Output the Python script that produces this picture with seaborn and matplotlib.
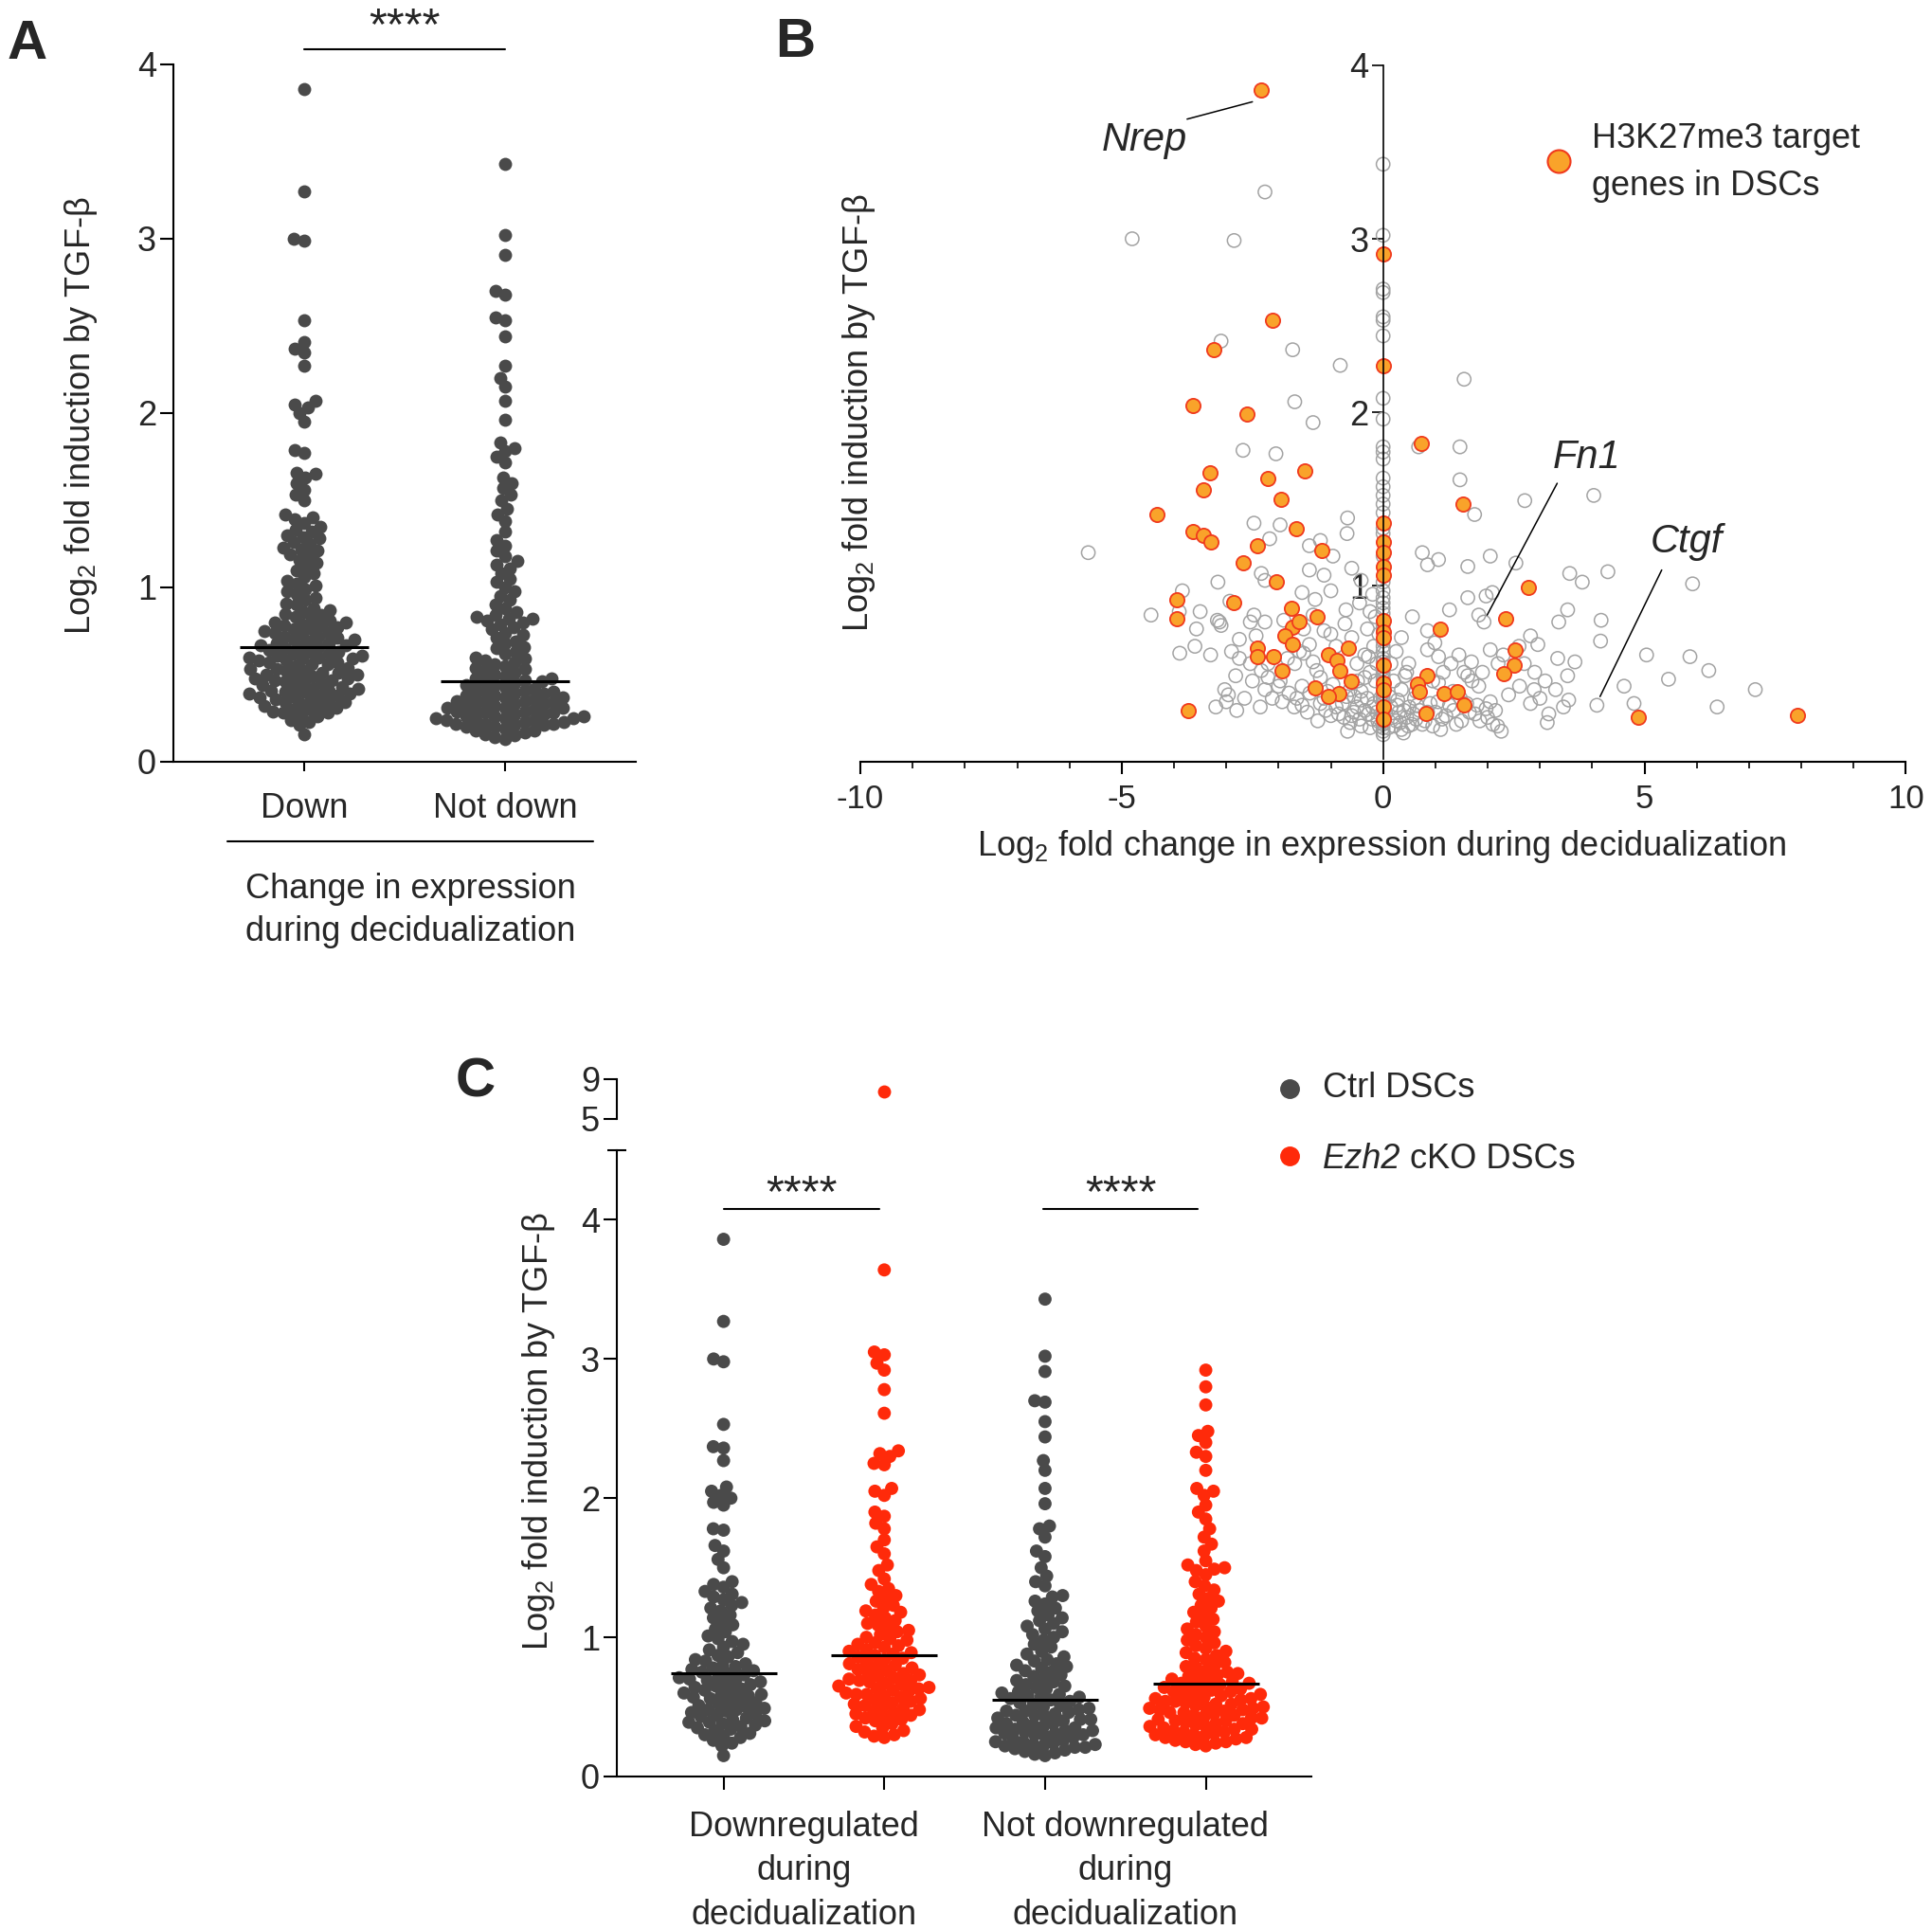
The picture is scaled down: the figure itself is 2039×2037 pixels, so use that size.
import numpy as np
import pandas as pd
import matplotlib
matplotlib.use("Agg")
import matplotlib.pyplot as plt
import seaborn as sns
from matplotlib.lines import Line2D
from matplotlib.collections import PathCollection
from matplotlib.ticker import MultipleLocator

# ---------------------------------------------------------------- data
# Panel A: log2 fold induction by TGF-beta, grouped by change during decidualization
a_groups = ["Down", "Not down"]
a_down = [0.16, 0.21, 0.23, 0.24,
          0.26, 0.27, 0.28, 0.28, 0.29, 0.30, 0.30, 0.31, 0.32, 0.32, 0.33, 0.34, 0.34,
          0.35, 0.36, 0.36, 0.37, 0.37, 0.38, 0.38, 0.39, 0.39, 0.40, 0.40, 0.41, 0.41, 0.42, 0.42, 0.43, 0.43, 0.44,
          0.45, 0.46, 0.46, 0.47, 0.47, 0.48, 0.48, 0.49, 0.49, 0.50, 0.50, 0.51, 0.51, 0.52, 0.52, 0.53, 0.53, 0.54,
          0.55, 0.56, 0.56, 0.57, 0.57, 0.58, 0.58, 0.59, 0.59, 0.60, 0.60, 0.61, 0.61, 0.62, 0.62, 0.63, 0.63, 0.64,
          0.65, 0.66, 0.66, 0.67, 0.67, 0.68, 0.68, 0.69, 0.70, 0.70, 0.71, 0.72, 0.72, 0.73, 0.74, 0.74,
          0.75, 0.76, 0.76, 0.77, 0.78, 0.78, 0.79, 0.80, 0.80, 0.81, 0.82, 0.83, 0.84, 0.85,
          0.86, 0.87, 0.88, 0.90, 0.91, 0.93, 0.94,
          0.96, 0.98, 0.99, 1.01, 1.02, 1.04,
          1.06, 1.08, 1.10, 1.12, 1.14,
          1.16, 1.18, 1.19, 1.21, 1.22, 1.23, 1.25,
          1.26, 1.28, 1.29, 1.30, 1.32, 1.33, 1.35,
          1.37, 1.39, 1.40, 1.42,
          1.50, 1.53, 1.56, 1.60, 1.63, 1.65, 1.66, 1.77, 1.79, 1.95, 2.00, 2.03, 2.05, 2.07,
          2.27, 2.35, 2.37, 2.41, 2.53, 2.99, 3.00, 3.27, 3.86]
a_notdown = [0.13, 0.14, 0.15, 0.16, 0.17, 0.18, 0.18, 0.19,
             0.20, 0.20, 0.21, 0.21, 0.22, 0.22, 0.22, 0.23, 0.23, 0.24, 0.24, 0.24,
             0.25, 0.25, 0.25, 0.26, 0.26, 0.26, 0.27, 0.27, 0.28, 0.28, 0.29, 0.29,
             0.30, 0.30, 0.31, 0.31, 0.31, 0.32, 0.32, 0.33, 0.33, 0.34, 0.34, 0.35, 0.35, 0.36, 0.36,
             0.37, 0.37, 0.38, 0.38, 0.39, 0.39,
             0.40, 0.40, 0.41, 0.42, 0.42, 0.43, 0.44, 0.44, 0.45, 0.46, 0.46, 0.47, 0.48, 0.48, 0.49,
             0.50, 0.51, 0.52, 0.53, 0.54, 0.55, 0.56, 0.57, 0.58, 0.59,
             0.60, 0.62, 0.63, 0.65, 0.66, 0.68, 0.69,
             0.71, 0.73, 0.74, 0.76, 0.77, 0.79,
             0.80, 0.81, 0.82, 0.82, 0.83, 0.84, 0.86, 0.88,
             0.90, 0.93, 0.95, 0.98, 1.00, 1.03, 1.05, 1.08, 1.11, 1.13, 1.15, 1.18,
             1.21, 1.24, 1.27, 1.32, 1.38, 1.42, 1.45, 1.50, 1.53, 1.57, 1.60, 1.63,
             1.72, 1.75, 1.78, 1.80, 1.83, 1.96, 2.07, 2.15, 2.20, 2.27, 2.44, 2.53, 2.55,
             2.68, 2.70, 2.91, 3.02, 3.43]
a_means = [0.66, 0.46]

# Panel B: (log2 fold change during decidualization, log2 fold induction by TGF-beta)
b_other_genes = [
    (0, 3.43), (0, 3.02), (0, 2.71), (0, 2.69), (0, 2.55), (0, 2.53), (0, 2.44), (0, 2.08), (0, 1.96),
    (0, 1.80), (0, 1.77), (0, 1.73), (0, 1.62), (0, 1.57), (0, 1.52), (0, 1.47), (0, 1.42), (0, 1.33),
    (0, 1.30), (0, 1.17), (0, 1.02), (0, 0.97), (0, 0.93), (0, 0.90), (0, 0.87), (0, 0.84), (0, 0.77),
    (0, 0.75), (0, 0.68), (0, 0.65), (0, 0.62), (0, 0.58), (0, 0.56), (0, 0.52), (0, 0.50), (0, 0.48),
    (0, 0.46), (0, 0.42), (0, 0.38), (0, 0.36), (0, 0.34), (0, 0.32), (0, 0.28), (0, 0.26), (0, 0.25),
    (0, 0.22), (0, 0.20), (0, 0.18), (0, 0.16), (0, 0.14),
    (-2.26, 3.27), (-4.80, 3.00), (-2.85, 2.99), (-3.10, 2.41), (-1.73, 2.36), (-0.82, 2.27), (1.55, 2.19),
    (-1.69, 2.06), (-1.34, 1.94), (-2.68, 1.78), (-2.05, 1.76), (0.68, 1.80), (1.47, 1.80), (1.47, 1.61),
    (4.03, 1.52), (2.71, 1.49), (1.75, 1.41), (-2.47, 1.36), (-1.97, 1.35), (-0.68, 1.39), (-0.69, 1.30),
    (-1.20, 1.26), (-2.17, 1.27), (-1.41, 1.23), (-0.96, 1.17), (-5.64, 1.19), (0.75, 1.19), (0.85, 1.12),
    (1.06, 1.15), (1.62, 1.11), (2.05, 1.17), (2.54, 1.13), (3.57, 1.07), (3.81, 1.02), (4.30, 1.08),
    (5.92, 1.01), (-2.33, 1.07), (-2.26, 1.03), (-1.41, 1.09), (-1.13, 1.06), (-0.42, 1.03), (-3.84, 0.97),
    (-3.16, 1.02), (-4.44, 0.83), (-3.57, 0.75), (-3.13, 0.79), (-2.93, 0.91), (-2.75, 0.69), (-2.47, 0.83),
    (-2.26, 0.79), (-2.54, 0.55), (-2.82, 0.48), (-3.03, 0.40), (-2.96, 0.37), (-2.26, 0.40), (-2.12, 0.35),
    (-1.93, 0.33), (-1.55, 0.96), (-1.34, 0.83), (-1.52, 0.75), (-1.41, 0.66), (-1.13, 0.74), (-0.73, 0.78),
    (-0.71, 0.86), (-0.35, 0.60), (-1.27, 0.51), (-1.55, 0.42), (-1.55, 0.31), (-1.13, 0.35), (-0.78, 0.32),
    (-0.56, 0.27), (-0.42, 0.34), (-0.68, 0.16), (-0.28, 0.26), (-0.21, 0.23), (-0.35, 0.47),
    (0.56, 0.82), (0.85, 0.74), (0.99, 0.67), (0.85, 0.63), (1.06, 0.59), (1.27, 0.86), (1.62, 0.93),
    (1.83, 0.83), (1.93, 0.79), (1.97, 0.94), (2.09, 0.96), (2.82, 0.71), (2.96, 0.66), (3.36, 0.79),
    (3.53, 0.86), (4.17, 0.80), (4.16, 0.68), (5.04, 0.60), (5.87, 0.59), (6.23, 0.51), (5.46, 0.46),
    (4.61, 0.42), (7.12, 0.40), (4.80, 0.32), (6.39, 0.30), (4.09, 0.31), (3.67, 0.56), (3.34, 0.58),
    (3.53, 0.48), (3.10, 0.45), (2.89, 0.40), (2.82, 0.32), (3.17, 0.26), (3.14, 0.21), (3.55, 0.34),
    (2.19, 0.19), (2.26, 0.16), (2.05, 0.63), (1.69, 0.56), (1.62, 0.48), (1.83, 0.42), (1.97, 0.29),
    (1.76, 0.26), (1.27, 0.31), (1.13, 0.23), (0.63, 0.39), (0.49, 0.55), (0.42, 0.48), (0.28, 0.34),
    (0.39, 0.15), (0.21, 0.19), (0.63, 0.23), (0.85, 0.27), (1.06, 0.44), (1.34, 0.39), (1.48, 0.35),
    (2.40, 0.37), (2.61, 0.42),
    (-3.89, 0.61), (-3.17, 0.80), (-3.10, 0.77), (-2.75, 0.58), (-2.33, 0.51), (-2.43, 0.71), (-2.54, 0.79),
    (-1.97, 0.45), (-1.83, 0.58), (-1.69, 0.55), (-1.52, 0.61), (-1.34, 0.56), (-1.20, 0.47), (-1.06, 0.39),
    (-0.96, 0.43), (-0.63, 0.40), (-0.49, 0.45), (-0.28, 0.59), (-0.42, 0.39), (-0.17, 0.32), (-0.85, 0.26),
    (-0.63, 0.21), (-0.42, 0.19), (-0.07, 0.19),
    (0.15, 0.30), (0.30, 0.27), (0.45, 0.24), (0.55, 0.20), (0.25, 0.22), (0.10, 0.18), (0.35, 0.17),
    (0.50, 0.30), (0.70, 0.28), (0.75, 0.20), (0.90, 0.32), (1.00, 0.27), (1.20, 0.25), (1.35, 0.28),
    (1.50, 0.22), (1.65, 0.27), (1.80, 0.31), (2.00, 0.24), (2.10, 0.20), (0.60, 0.35), (0.35, 0.40),
    (0.20, 0.45), (0.45, 0.50), (0.95, 0.45), (1.15, 0.50), (1.30, 0.55), (1.45, 0.60), (1.55, 0.50),
    (1.70, 0.45), (1.90, 0.50), (2.20, 0.55), (2.30, 0.60), (2.60, 0.65), (2.70, 0.55), (2.90, 0.50),
    (3.00, 0.35), (3.30, 0.40), (3.45, 0.30),
    (0.05, 0.26), (0.12, 0.36), (0.18, 0.24), (0.27, 0.31), (0.33, 0.21), (0.40, 0.28), (0.48, 0.19),
    (0.58, 0.26), (0.65, 0.31), (0.80, 0.22), (0.95, 0.19), (1.05, 0.33), (1.10, 0.17), (1.40, 0.20),
    (1.60, 0.32), (1.85, 0.22), (2.05, 0.33), (2.15, 0.28), (0.25, 0.62), (0.35, 0.70), (0.15, 0.55),
    (-0.10, 0.22), (-0.20, 0.30), (-0.30, 0.35), (-0.50, 0.30), (-0.60, 0.25), (-0.70, 0.36), (-0.90, 0.30),
    (-1.00, 0.25), (-1.20, 0.32), (-1.40, 0.38), (-1.70, 0.30), (-1.80, 0.38), (-2.00, 0.42), (-2.20, 0.47),
    (-2.50, 0.45), (-2.65, 0.35), (-3.00, 0.33), (-3.20, 0.30), (-3.30, 0.60), (-3.60, 0.65), (-0.15, 0.45),
    (-0.25, 0.50), (-0.50, 0.55), (-0.60, 0.70), (-0.90, 0.65), (-1.00, 0.72), (-0.30, 0.75), (-0.45, 0.90),
    (-0.20, 0.95), (-1.60, 0.62), (-2.20, 0.55), (-2.90, 0.62), (-1.90, 0.80), (-1.30, 0.92), (-1.00, 0.97),
    (-0.60, 1.10), (-3.50, 0.85), (-3.90, 0.85),
    (-0.05, 0.35), (-0.12, 0.27), (-0.25, 0.18), (-0.35, 0.28), (-0.45, 0.23), (-0.55, 0.36), (-0.75, 0.24),
    (-0.85, 0.37), (-1.10, 0.28), (-1.25, 0.22), (-1.45, 0.27), (-1.65, 0.35), (-2.35, 0.30), (-2.80, 0.28),
    (-0.12, 0.55), (-0.18, 0.65), (-0.08, 0.72), (-0.25, 0.85), (-0.15, 0.82)]
b_target_genes = [
    (-2.33, 3.86), (0, 2.91), (-2.12, 2.53), (-3.24, 2.36), (0, 2.27), (-3.64, 2.04), (-2.60, 1.99),
    (0.73, 1.82), (-3.31, 1.65), (-1.50, 1.66), (-2.21, 1.62), (-3.44, 1.55), (-1.95, 1.50), (1.52, 1.47),
    (-4.33, 1.41), (0, 1.36), (-3.64, 1.31), (-3.43, 1.29), (-3.30, 1.25), (-1.66, 1.33), (-2.40, 1.23),
    (-1.17, 1.20), (0, 1.25), (0, 1.19), (0, 1.11), (0, 1.06), (0, 0.80), (0, 0.73), (0, 0.70), (0, 0.54),
    (0, 0.44), (0, 0.40), (0, 0.30), (0, 0.23), (-2.68, 1.13), (-2.05, 1.02), (-3.95, 0.92), (-2.86, 0.90),
    (-3.95, 0.81), (-1.76, 0.87), (-1.73, 0.76), (-1.61, 0.79), (-1.27, 0.82), (-1.88, 0.71), (-1.73, 0.66),
    (-2.40, 0.64), (-2.40, 0.59), (-2.10, 0.59), (-1.93, 0.51), (-1.04, 0.60), (-0.88, 0.57), (-0.67, 0.64),
    (-0.82, 0.51), (-1.30, 0.41), (-0.84, 0.38), (-1.05, 0.36), (-0.61, 0.45), (-3.72, 0.28), (7.93, 0.25),
    (4.89, 0.24), (2.78, 0.99), (1.10, 0.75), (2.34, 0.81), (2.52, 0.63), (2.51, 0.54), (2.31, 0.49),
    (0.84, 0.48), (0.66, 0.43), (0.69, 0.39), (1.17, 0.38), (1.42, 0.39), (1.54, 0.31), (0.83, 0.26)]
b_labels = ["Nrep", "Fn1", "Ctgf"]
b_label_points = [(-2.33, 3.86), (1.93, 0.79), (4.09, 0.31)]

# Panel C
c_group_labels = ["Downregulated\nduring\ndecidualization", "Not downregulated\nduring\ndecidualization"]
c_genotypes = ["Ctrl DSCs", "Ezh2 cKO DSCs"]
c_ctrl_down = [0.15, 0.22, 0.24, 0.26, 0.28, 0.29,
               0.30, 0.31, 0.33, 0.34, 0.35, 0.36, 0.37, 0.38, 0.39, 0.39,
               0.40, 0.41, 0.42, 0.43, 0.44, 0.45, 0.46, 0.47, 0.48, 0.48, 0.49,
               0.50, 0.51, 0.52, 0.53, 0.54, 0.55, 0.56, 0.57, 0.58, 0.59, 0.59,
               0.60, 0.61, 0.62, 0.63, 0.64, 0.65, 0.66, 0.67, 0.68, 0.69, 0.69,
               0.70, 0.71, 0.72, 0.73, 0.74, 0.75, 0.76, 0.77, 0.78, 0.79,
               0.80, 0.81, 0.83, 0.84, 0.86, 0.87, 0.89,
               0.91, 0.93, 0.95, 0.97, 0.99, 1.01, 1.04, 1.06, 1.09, 1.11, 1.14, 1.16, 1.19,
               1.21, 1.23, 1.25, 1.27, 1.29, 1.31, 1.33, 1.36, 1.38,
               1.40, 1.50, 1.56, 1.62, 1.66, 1.77, 1.78, 1.95, 1.97, 2.00, 2.02, 2.05, 2.08,
               2.27, 2.36, 2.37, 2.53, 2.98, 3.00, 3.27, 3.86]
c_ko_down = [0.28, 0.29, 0.30, 0.32, 0.33, 0.35, 0.36, 0.38,
             0.40, 0.41, 0.42, 0.43, 0.44, 0.45, 0.46, 0.47, 0.48, 0.49,
             0.50, 0.51, 0.52, 0.53, 0.54, 0.55, 0.56, 0.57, 0.58, 0.59, 0.59,
             0.60, 0.61, 0.62, 0.63, 0.63, 0.64, 0.65, 0.66, 0.67, 0.68, 0.69, 0.69,
             0.70, 0.71, 0.72, 0.73, 0.74, 0.75, 0.76, 0.77, 0.78, 0.79,
             0.80, 0.81, 0.82, 0.84, 0.85, 0.86, 0.87, 0.88, 0.89,
             0.90, 0.91, 0.93, 0.94, 0.95, 0.96, 0.98, 0.99,
             1.00, 1.02, 1.04, 1.05, 1.07, 1.09, 1.10, 1.12, 1.14, 1.16, 1.18, 1.19,
             1.21, 1.23, 1.26, 1.28, 1.30, 1.33, 1.35, 1.38,
             1.42, 1.48, 1.52, 1.60, 1.65, 1.70, 1.78, 1.82, 1.87, 1.90, 2.02, 2.05, 2.07,
             2.24, 2.25, 2.30, 2.32, 2.34, 2.61, 2.78, 2.92, 2.97, 3.03, 3.05, 3.64, 7.80]
c_ctrl_not = [0.15, 0.16, 0.17, 0.18, 0.19,
              0.20, 0.21, 0.21, 0.22, 0.22, 0.23, 0.23, 0.24, 0.25, 0.25, 0.26, 0.27, 0.28, 0.29,
              0.30, 0.30, 0.31, 0.31, 0.32, 0.33, 0.33, 0.34, 0.35, 0.35, 0.36, 0.37, 0.38, 0.38, 0.39,
              0.40, 0.41, 0.41, 0.42, 0.43, 0.44, 0.44, 0.45, 0.46, 0.47, 0.47, 0.48, 0.49,
              0.50, 0.51, 0.52, 0.53, 0.54, 0.55, 0.56, 0.57, 0.57, 0.58, 0.59,
              0.60, 0.61, 0.63, 0.64, 0.65, 0.66, 0.68, 0.69,
              0.70, 0.72, 0.73, 0.75, 0.76, 0.78, 0.79,
              0.80, 0.81, 0.83, 0.84, 0.86, 0.88, 0.90, 0.93, 0.95, 0.98,
              1.00, 1.02, 1.04, 1.06, 1.08, 1.10, 1.12, 1.14, 1.16, 1.19, 1.21, 1.24, 1.26, 1.29,
              1.30, 1.37, 1.40, 1.44, 1.50, 1.58, 1.62, 1.72, 1.78, 1.80, 1.96, 2.07, 2.20, 2.27,
              2.44, 2.55, 2.69, 2.70, 2.91, 3.02, 3.43]
c_ko_not = [0.22, 0.23, 0.24, 0.25, 0.25, 0.26, 0.27, 0.28, 0.28, 0.29,
            0.30, 0.30, 0.31, 0.32, 0.32, 0.33, 0.34, 0.34, 0.35, 0.36, 0.36, 0.37, 0.38, 0.38, 0.39,
            0.40, 0.40, 0.41, 0.42, 0.42, 0.43, 0.44, 0.44, 0.45, 0.46, 0.46, 0.47, 0.48, 0.48, 0.49, 0.49,
            0.50, 0.50, 0.51, 0.52, 0.52, 0.53, 0.54, 0.54, 0.55, 0.56, 0.56, 0.57, 0.58, 0.58, 0.59,
            0.60, 0.61, 0.61, 0.62, 0.63, 0.64, 0.64, 0.65, 0.66, 0.67, 0.67, 0.68, 0.69,
            0.70, 0.71, 0.72, 0.73, 0.74, 0.75, 0.76, 0.78, 0.79,
            0.80, 0.82, 0.84, 0.85, 0.87, 0.89, 0.90, 0.92, 0.94, 0.96, 0.98,
            1.00, 1.02, 1.04, 1.06, 1.08, 1.11, 1.13, 1.16, 1.18, 1.21, 1.23, 1.26, 1.28,
            1.31, 1.34, 1.37, 1.40, 1.45, 1.48, 1.49, 1.50, 1.52, 1.55, 1.62, 1.67, 1.72, 1.78,
            1.85, 1.90, 1.95, 2.02, 2.05, 2.07, 2.20, 2.30, 2.33, 2.40, 2.45, 2.48, 2.67, 2.80, 2.92]
c_means = [0.745, 0.87, 0.55, 0.665]

# ---------------------------------------------------------------- style
sns.set_theme(style="ticks")
plt.rcParams["font.family"] = ["Liberation Sans", "DejaVu Sans"]
plt.rcParams["mathtext.fontset"] = "custom"
plt.rcParams["mathtext.rm"] = "Liberation Sans"
plt.rcParams["mathtext.it"] = "Liberation Sans:italic"
plt.rcParams["mathtext.bf"] = "Liberation Sans:bold"
plt.rcParams["axes.unicode_minus"] = False

FS = 26
STAR_FS = 35
CTRL = "#4a4a4a"
KO = "#ff2a0a"
ORANGE = "#f9a32a"
ORANGE_EDGE = "#f03a1e"
GREY = "#a3a3a3"
LW = 1.5
DOT = 10.0          # displayed dot diameter (pt)
SWARM_A = 7.5       # diameter used to lay out the swarm (allows GraphPad-like overlap)
SWARM_C = 7.5
YLAB = "Log$_2$ fold induction by TGF-β"

W, H = 2040, 2037
fig = plt.figure(figsize=(W / 100, H / 100), dpi=100)


def rect(l, t, r, b):
    return [l / W, 1 - b / H, (r - l) / W, (b - t) / H]


def style_spines(ax):
    for s in ["top", "right"]:
        ax.spines[s].set_visible(False)
    for s in ["left", "bottom"]:
        ax.spines[s].set_linewidth(LW)
        ax.spines[s].set_color("black")


# ---------------------------------------------------------------- panel A
axA = fig.add_axes(rect(183, 68, 671, 804))
dfA = pd.DataFrame({"group": ["Down"] * len(a_down) + ["Not down"] * len(a_notdown),
                    "value": a_down + a_notdown})
sns.swarmplot(data=dfA, x="group", y="value", order=a_groups, color=CTRL,
              size=SWARM_A, linewidth=0, ax=axA)
for i, m in enumerate(a_means):
    axA.hlines(m, i - 0.32, i + 0.32, color="black", lw=2.2, zorder=5)
axA.set_xlim(-0.65, 1.65)
axA.set_ylim(0, 4)
axA.set_yticks([0, 1, 2, 3, 4])
style_spines(axA)
axA.tick_params(axis="y", labelsize=FS, length=10, width=LW, pad=3, color="black")
axA.tick_params(axis="x", labelsize=FS, length=7, width=LW, pad=16, color="black")
axA.set_ylabel(YLAB, fontsize=FS)
axA.yaxis.set_label_coords(-0.2008, 0.496)
axA.yaxis.label.set_va("center")
axA.set_xlabel("Change in expression\nduring decidualization", fontsize=FS, linespacing=1.36)
axA.xaxis.set_label_coords(0.5123, -0.2135)
axA.xaxis.label.set_va("center")
axA.plot([0, 1], [4.087, 4.087], color="black", lw=LW, clip_on=False)
axA.text(0.5, 4.145, "****", ha="center", va="baseline", fontsize=STAR_FS, clip_on=False)
fig.add_artist(Line2D([240 / W, 626 / W], [1 - 888 / H, 1 - 888 / H], color="black", lw=LW))

# ---------------------------------------------------------------- panel B
axB = fig.add_axes(rect(908, 69, 2011.4, 804))
gx = [p[0] for p in b_other_genes]
gy = [p[1] for p in b_other_genes]
tx = [p[0] for p in b_target_genes]
ty = [p[1] for p in b_target_genes]
sns.scatterplot(x=gx, y=gy, ax=axB, s=105, facecolor="none", edgecolor=GREY,
                linewidth=1.1, zorder=1)
sns.scatterplot(x=tx, y=ty, ax=axB, s=120, color=ORANGE, edgecolor=ORANGE_EDGE,
                linewidth=1.3, zorder=2)
for s in ["top", "right"]:
    axB.spines[s].set_visible(False)
axB.spines["left"].set_position(("data", 0))
axB.spines["left"].set_bounds(0, 4)
axB.spines["left"].set_linewidth(1.2)
axB.spines["bottom"].set_linewidth(LW)
axB.spines["left"].set_color("black")
axB.spines["bottom"].set_color("black")
axB.set_yticks([1, 2, 3, 4])
axB.set_xticks([-10, -5, 0, 5, 10])
axB.xaxis.set_minor_locator(MultipleLocator(1))
axB.tick_params(axis="y", labelsize=FS, length=9, width=1.2, pad=2, color="black")
axB.tick_params(axis="x", which="major", labelsize=FS - 1, length=9.5, width=LW, pad=7, color="black")
axB.tick_params(axis="x", which="minor", length=5, width=1.2, color="black")
axB.set_xlabel("Log$_2$ fold change in expression during decidualization", fontsize=FS)
axB.xaxis.set_label_coords(0.4985, -0.1211)
axB.xaxis.label.set_va("center")
axB.set_ylabel(YLAB, fontsize=FS)
axB.yaxis.set_label_coords(-0.001, 0.5007)
axB.yaxis.label.set_va("center")
# gene annotations
label_pos = [(-4.56, 3.57), (3.89, 1.74), (5.80, 1.25)]
line_start = [(-3.75, 3.69), (3.33, 1.59), (5.33, 1.09)]
line_end = [(-2.50, 3.79), (1.99, 0.83), (4.15, 0.36)]
for name, (lx, ly), (sx, sy), (ex, ey) in zip(b_labels, label_pos, line_start, line_end):
    axB.text(lx, ly, name, fontsize=30, style="italic", ha="center", va="center")
    axB.plot([sx, ex], [sy, ey], color="black", lw=1.1)
# legend
axB.scatter([0.6675], [0.8626], s=300, color=ORANGE, edgecolor=ORANGE_EDGE, linewidth=1.5,
            transform=axB.transAxes, clip_on=False, zorder=4)
axB.text(0.6997, 0.8605, "H3K27me3 target\ngenes in DSCs", fontsize=FS, ha="left", va="center",
         linespacing=1.58, transform=axB.transAxes)
axB.set_xlim(-10, 10)
axB.set_ylim(-0.016, 4)

# ---------------------------------------------------------------- panel C
c_order = ["ctrl_down", "ko_down", "ctrl_not", "ko_not"]
c_values = [c_ctrl_down, c_ko_down, c_ctrl_not, c_ko_not]
c_geno = [c_genotypes[0], c_genotypes[1], c_genotypes[0], c_genotypes[1]]
dfC = pd.DataFrame({
    "group": sum([[g] * len(v) for g, v in zip(c_order, c_values)], []),
    "genotype": sum([[gt] * len(v) for gt, v in zip(c_geno, c_values)], []),
    "value": sum(c_values, []),
})
axC = fig.add_axes(rect(651, 1214, 1384, 1875))
axCu = fig.add_axes(rect(651, 1139, 1384, 1181))
sns.swarmplot(data=dfC, x="group", y="value", hue="genotype", order=c_order,
              hue_order=c_genotypes, palette=[CTRL, KO], size=SWARM_C, linewidth=0,
              legend=False, ax=axC)
for i, m in enumerate(c_means):
    axC.hlines(m, i - 0.33, i + 0.33, color="black", lw=2.2, zorder=5)
axC.set_xlim(-0.664, 3.657)
axC.set_ylim(0, 4.5)
axC.set_yticks([0, 1, 2, 3, 4])
axC.set_yticks([4.5], minor=True)
axC.set_xticks([0, 1, 2, 3], labels=["", "", "", ""])
axC.set_xticks([0.5, 2.5], labels=c_group_labels, minor=True)
style_spines(axC)
axC.tick_params(axis="y", which="major", labelsize=FS, length=10, width=LW, pad=3, color="black")
axC.tick_params(axis="y", which="minor", length=14, width=LW, direction="inout", color="black")
axC.tick_params(axis="x", which="major", length=10, width=LW, color="black")
axC.tick_params(axis="x", which="minor", length=0, labelsize=FS, pad=26)
for lab in axC.get_xticklabels(minor=True):
    lab.set_linespacing(1.42)
axC.set_xlabel("")
axC.set_ylabel(YLAB, fontsize=FS)
axC.yaxis.set_label_coords(-0.1126, 0.5507)
axC.yaxis.label.set_va("center")
for a, b in [(0, 0.97), (1.99, 2.95)]:
    axC.plot([a, b], [4.08, 4.08], color="black", lw=LW, clip_on=False)
    axC.text((a + b) / 2, 4.10, "****", ha="center", va="baseline", fontsize=STAR_FS, clip_on=False)

# upper broken-axis segment (5-9)
dfCu = dfC[dfC["value"] > 5]
sns.stripplot(data=dfCu, x="group", y="value", hue="genotype", order=c_order,
              hue_order=c_genotypes, palette=[CTRL, KO], jitter=False, size=DOT,
              linewidth=0, legend=False, ax=axCu)
axCu.set_xlim(-0.664, 3.657)
axCu.set_ylim(5, 9)
axCu.set_yticks([5, 9])
axCu.set_yticks([5], minor=True)
for s in ["top", "right", "bottom"]:
    axCu.spines[s].set_visible(False)
axCu.spines["left"].set_linewidth(LW)
axCu.spines["left"].set_color("black")
axCu.set_xticks([])
axCu.set_xlabel("")
axCu.set_ylabel("")
axCu.tick_params(axis="y", which="major", labelsize=FS, length=10, width=LW, pad=3, color="black")
axCu.tick_params(axis="y", which="minor", length=14, width=LW, direction="inout", color="black")
axCu.patch.set_alpha(0)

# legend C
fig.add_artist(Line2D([1361 / W], [1 - 1149 / H], marker="o", ms=14, color=CTRL, lw=0,
                      transform=fig.transFigure))
fig.text(1396 / W, 1 - 1149 / H, c_genotypes[0], fontsize=FS, ha="left", va="center")
fig.add_artist(Line2D([1361 / W], [1 - 1220 / H], marker="o", ms=14, color=KO, lw=0,
                      transform=fig.transFigure))
ezh2_txt = fig.text(1396 / W, 1 - 1220 / H, "Ezh2", fontsize=FS, style="italic",
                    ha="left", va="baseline")
rest_txt = fig.text(1396 / W, 1 - 1220 / H, " cKO DSCs", fontsize=FS, ha="left", va="baseline")

# panel letters
fig.text(8 / W, 1 - 62 / H, "A", fontsize=42, weight="bold", va="baseline")
fig.text(818 / W, 1 - 60 / H, "B", fontsize=42, weight="bold", va="baseline")
fig.text(481 / W, 1 - 1158 / H, "C", fontsize=42, weight="bold", va="baseline")

# lay out the swarms at a smaller diameter, then show the dots at full size (overlapping)
fig.canvas.draw()
renderer = fig.canvas.get_renderer()
# place the legend text pieces (italic gene name + plain text) on a common baseline
cap = 0.716 * FS * 100 / 72
base_y = 1 - (1220 + cap / 2) / H
ezh2_txt.set_y(base_y)
rest_txt.set_y(base_y)
bb = ezh2_txt.get_window_extent(renderer)
rest_txt.set_x(bb.x1 / W)

for ax in (axA, axC):
    for coll in ax.collections:
        if isinstance(coll, PathCollection):
            if "draw" in coll.__dict__:
                del coll.draw
            coll.set_sizes([DOT ** 2])

fig.savefig("out.png", dpi=100)
